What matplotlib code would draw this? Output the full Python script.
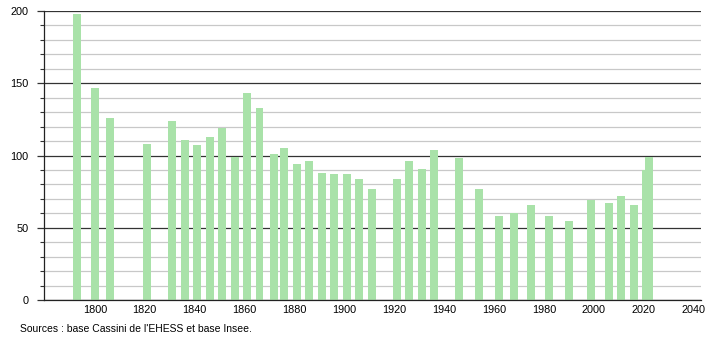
import matplotlib
matplotlib.use("Agg")
import matplotlib.pyplot as plt
from matplotlib.ticker import MultipleLocator

plt.rcParams['font.family'] = ['Liberation Sans', 'DejaVu Sans']

years = [1793, 1800, 1806, 1821, 1831, 1836, 1841, 1846, 1851, 1856, 1861, 1866,
         1872, 1876, 1881, 1886, 1891, 1896, 1901, 1906, 1911, 1921, 1926, 1931,
         1936, 1946, 1954, 1962, 1968, 1975, 1982, 1990, 1999, 2006, 2011, 2016,
         2021, 2022]
population = [198, 147, 126, 108, 124, 111, 107, 113, 119, 99, 143, 133,
              101, 105, 94, 96, 88, 87, 87, 84, 77, 84, 96, 91,
              104, 98, 77, 58, 60, 66, 58, 55, 69, 67, 72, 66,
              90, 99]
x_ticks = [1800, 1820, 1840, 1860, 1880, 1900, 1920, 1940, 1960, 1980, 2000, 2020, 2040]
y_ticks = [0, 50, 100, 150, 200]
source = "Sources : base Cassini de l'EHESS et base Insee."

fig = plt.figure(figsize=(7.1, 3.4), dpi=100)
ax = fig.add_axes([44/710, 1-300/340, (701-44)/710, (300-11)/340])

for y in range(10, 200, 10):
    if y % 50:
        ax.axhline(y, color='#c8c8c8', lw=0.9, zorder=0)
for y in y_ticks:
    ax.axhline(y, color='#333333', lw=0.9, zorder=0)

ax.bar(years, population, width=3.2, color='#a9e2a9', zorder=2)

ax.set_xlim(1779.6, 2043)
ax.set_ylim(0, 200)
ax.set_xticks(x_ticks)
ax.set_yticks(y_ticks)
ax.yaxis.set_minor_locator(MultipleLocator(10))
ax.tick_params(axis='y', which='major', length=5, width=0.9, labelsize=7.8, pad=6, color='#333333')
ax.tick_params(axis='y', which='minor', length=3, width=0.8, color='#333333')
ax.tick_params(axis='x', which='major', length=0, labelsize=7.8, pad=3.5)
for s in ['top', 'right']:
    ax.spines[s].set_visible(False)
ax.spines['left'].set_linewidth(0.9)
ax.spines['bottom'].set_linewidth(0.9)
ax.spines['left'].set_color('#222222')
ax.spines['bottom'].set_color('#222222')

fig.text(20/710, 1-329.5/340, source, fontsize=7.5, va='center', ha='left')

fig.savefig('out.png', dpi=100)
